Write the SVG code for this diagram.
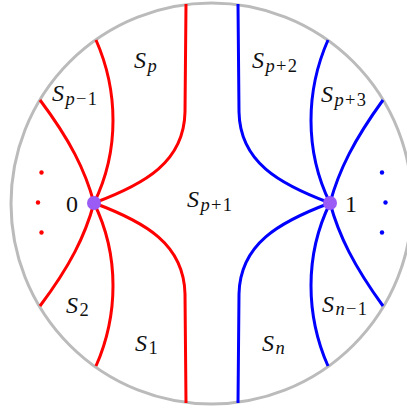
<svg xmlns="http://www.w3.org/2000/svg" width="407" height="409" viewBox="0 0 407 409">
<style>
.disk{fill:none;stroke:#bbbbbb;stroke-width:3}
.r{fill:none;stroke:#ff0000;stroke-width:3}
.b{fill:none;stroke:#0000ff;stroke-width:3}
.pt{fill:#9b5cf6}
.m{font-family:"Liberation Serif","Times New Roman",serif;font-size:24px;fill:#111}
.i{font-style:italic}
.sub{font-size:18.5px;letter-spacing:1.3px}
</style>
<rect width="407" height="409" fill="#ffffff"/>
<circle class="disk" cx="211.5" cy="203.5" r="200.5"/>
<g id="connectors">
<path class="r" d="M94,203 C145,184 184,162 185,112 L186,4"/>
<path class="r" d="M94,203 C120,150 118,90 96,40"/>
<path class="r" d="M94,203 C85,170 70,140 40,100"/>
<path class="r" d="M94,203 C145,222 184,244 185,294 L186,403"/>
<path class="r" d="M94,203 C120,256 118,316 96,366"/>
<path class="r" d="M94,203 C85,236 70,266 40,306"/>
<path class="b" d="M330,203 C279,184 240,162 239,112 L238,4"/>
<path class="b" d="M330,203 C304,150 306,90 328,40"/>
<path class="b" d="M330,203 C339,170 354,140 383,100"/>
<path class="b" d="M330,203 C279,222 240,244 239,294 L238,403"/>
<path class="b" d="M330,203 C304,256 306,316 328,366"/>
<path class="b" d="M330,203 C339,236 354,266 383,306"/>
</g>
<g id="dots-left" fill="#ff0000">
<circle cx="41.5" cy="172.5" r="2.2"/>
<circle cx="38" cy="202.5" r="2.2"/>
<circle cx="41.5" cy="232.5" r="2.2"/>
</g>
<g id="dots-right" fill="#0000ff">
<circle cx="382" cy="172.5" r="2.2"/>
<circle cx="385.5" cy="202.5" r="2.2"/>
<circle cx="382" cy="232.5" r="2.2"/>
</g>
<g id="node0">
<circle class="pt" cx="94" cy="203" r="7"/>
<text class="m" x="66" y="212">0</text>
</g>
<g id="node1">
<circle class="pt" cx="330" cy="203" r="7"/>
<text class="m" x="345" y="212">1</text>
</g>
<g id="Sp"><text class="m" x="134" y="68"><tspan class="i">S</tspan><tspan class="sub i" dx="1.5" dy="4">p</tspan></text></g>
<g id="Sp-1"><text class="m" x="52" y="101"><tspan class="i">S</tspan><tspan class="sub" dx="1.5" dy="4"><tspan class="i">p</tspan>−1</tspan></text></g>
<g id="Sp+1"><text class="m" x="187" y="207"><tspan class="i">S</tspan><tspan class="sub" dx="1.5" dy="4"><tspan class="i">p</tspan>+1</tspan></text></g>
<g id="Sp+2"><text class="m" x="252" y="68"><tspan class="i">S</tspan><tspan class="sub" dx="1.5" dy="4"><tspan class="i">p</tspan>+2</tspan></text></g>
<g id="Sp+3"><text class="m" x="321" y="102"><tspan class="i">S</tspan><tspan class="sub" dx="1.5" dy="4"><tspan class="i">p</tspan>+3</tspan></text></g>
<g id="S2"><text class="m" x="66" y="313"><tspan class="i">S</tspan><tspan class="sub" dx="1.5" dy="3">2</tspan></text></g>
<g id="S1"><text class="m" x="135" y="351"><tspan class="i">S</tspan><tspan class="sub" dx="1.5" dy="3">1</tspan></text></g>
<g id="Sn"><text class="m" x="262" y="351"><tspan class="i">S</tspan><tspan class="sub i" dx="1.5" dy="3">n</tspan></text></g>
<g id="Sn-1"><text class="m" x="322" y="312"><tspan class="i">S</tspan><tspan class="sub" dx="1.5" dy="3"><tspan class="i">n</tspan>−1</tspan></text></g>
</svg>
